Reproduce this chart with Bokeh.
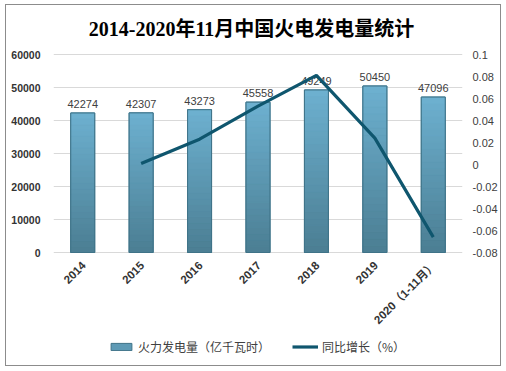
import numpy as np
from bokeh.plotting import figure
from bokeh.models import (Range1d, LinearAxis, FixedTicker, CustomJSTickFormatter,
                          Legend, LegendItem, ColumnDataSource, BasicTickFormatter, Label)
from bokeh.core.properties import value
from bokeh.embed import file_html
from bokeh.resources import INLINE

# ---- data ----
years = ["2014", "2015", "2016", "2017", "2018", "2019", "2020（1-11月）"]
generation = [42274, 42307, 43273, 45558, 49249, 50450, 47096]
growth_years = ["2015", "2016", "2017", "2018", "2019", "2020（1-11月）"]
growth = [0.001, 0.023, 0.053, 0.081, 0.024, -0.066]
left_ticks = [0, 10000, 20000, 30000, 40000, 50000, 60000]
right_ticks = [-0.08, -0.06, -0.04, -0.02, 0, 0.02, 0.04, 0.06, 0.08, 0.1]
left_lim = (0, 60000)
right_lim = (-0.08, 0.1)

FONT = "'Liberation Sans', 'Noto Sans CJK SC', sans-serif"
CJK = "'Noto Sans CJK SC', sans-serif"

# layout (pixels): frame holds title space above and label/legend space below
W, H = 496, 362
B_LEFT, B_RIGHT, B_TOP, B_BOTTOM = 47, 40, 0, 5
PX_ABOVE, PX_PLOT = 49, 198
PX_BELOW = H - B_TOP - B_BOTTOM - PX_ABOVE - PX_PLOT


def ext(lo, hi):
    per = (hi - lo) / PX_PLOT
    return Range1d(lo - PX_BELOW * per, hi + PX_ABOVE * per)


p = figure(x_range=years, y_range=ext(*left_lim),
           width=W, height=H, x_axis_location=None,
           output_backend="svg", toolbar_location=None,
           min_border_left=B_LEFT, min_border_right=B_RIGHT,
           min_border_top=B_TOP, min_border_bottom=B_BOTTOM)
p.styles = {"border": "1px solid #8c8c8c", "margin-left": "5px", "margin-top": "4px"}
p.outline_line_color = None
p.background_fill_color = "white"
p.border_fill_color = "white"

p.extra_y_ranges = {"right": ext(*right_lim)}

# title (inside the frame area, screen units)
p.add_layout(Label(x=198, y=H - B_TOP - B_BOTTOM - 23, x_units="screen", y_units="screen",
                   text="2014-2020年11月中国火电发电量统计", text_align="center",
                   text_baseline="middle",
                   text_font="'Liberation Serif', 'Noto Sans CJK SC', serif",
                   text_font_size="20px", text_font_style="bold", text_color="#000000"))

# bars: base (for legend), gradient slices, outline
src = ColumnDataSource(dict(x=years, top=generation, label=[str(v) for v in generation],
                            zero=[0] * len(years)))
base = p.vbar(x="x", top="top", width=0.41, source=src,
              fill_color="#5e9ab5", line_color="#3f7388", line_width=1)

N = 24
top_c = np.array([0x6d, 0xb0, 0xcf])
bot_c = np.array([0x4c, 0x7f, 0x94])
xs, bots, tops, cols = [], [], [], []
for yr, v in zip(years, generation):
    for k in range(N):
        f = k / (N - 1)
        c = (bot_c + (top_c - bot_c) * f).astype(int)
        xs.append(yr)
        bots.append(v * k / N)
        tops.append(v * (k + 1) / N)
        cols.append("#%02x%02x%02x" % tuple(c))
p.vbar(x=xs, bottom=bots, top=tops, width=0.41, fill_color=cols, line_color=cols, line_width=0.6)
p.vbar(x="x", top="top", width=0.41, source=src, fill_alpha=0,
       line_color="#3f7388", line_width=1)

# bar value labels
p.text(x="x", y="top", text="label", source=src,
       text_align="center", text_baseline="bottom", y_offset=-5,
       text_font=value(FONT), text_font_size="11px", text_color="#404040")

# category labels (rotated) under the baseline
p.text(x="x", y="zero", text="x", source=src, angle=np.pi / 4,
       text_align="right", text_baseline="middle", x_offset=1, y_offset=11,
       text_font=value(FONT), text_font_size="11.5px", text_font_style="bold",
       text_color="#333333")

# growth line
line = p.line(x=growth_years, y=growth, y_range_name="right",
              line_color="#0f566e", line_width=3.2)

# axes
p.yaxis.ticker = FixedTicker(ticks=left_ticks)
p.yaxis.formatter = BasicTickFormatter(use_scientific=False)
p.yaxis.axis_line_color = None
p.yaxis.major_tick_line_color = None
p.yaxis.minor_tick_line_color = None
p.yaxis.major_tick_out = 0
p.yaxis.major_tick_in = 0
p.yaxis.major_label_text_font = FONT
p.yaxis.major_label_text_font_size = "10.5px"
p.yaxis.major_label_text_font_style = "bold"
p.yaxis.major_label_text_color = "#333333"
p.yaxis.major_label_standoff = 13

ra = LinearAxis(y_range_name="right", ticker=FixedTicker(ticks=right_ticks),
                formatter=CustomJSTickFormatter(code="return String(Math.round(tick*100)/100);"))
ra.axis_line_color = None
ra.major_tick_line_color = None
ra.minor_tick_line_color = None
ra.major_tick_out = 0
ra.major_tick_in = 0
ra.major_label_text_font = FONT
ra.major_label_text_font_size = "11px"
ra.major_label_text_color = "#404040"
ra.major_label_standoff = 10
p.add_layout(ra, "right")

p.xgrid.grid_line_color = None
p.ygrid.ticker = FixedTicker(ticks=left_ticks)
p.ygrid.grid_line_color = "#d9d9d9"

legend = Legend(items=[LegendItem(label="火力发电量（亿千瓦时）", renderers=[base]),
                       LegendItem(label="同比增长（%）", renderers=[line])],
                orientation="horizontal", location=(55, 7),
                label_text_font=CJK, label_text_font_size="12px",
                label_text_color="#404040", glyph_width=26, glyph_height=9,
                spacing=22, label_standoff=4, border_line_color=None,
                background_fill_alpha=0, padding=2, margin=0)
p.add_layout(legend, "center")

open("out.html", "w").write(file_html(p, INLINE))
